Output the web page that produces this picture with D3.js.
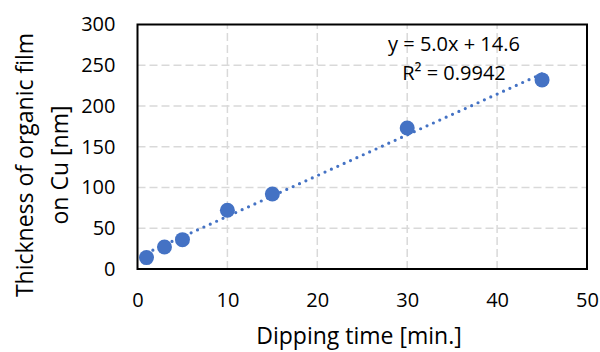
<!DOCTYPE html>
<html>
<head>
<meta charset="utf-8">
<script src="https://cdn.jsdelivr.net/npm/d3@7"></script>
<style>
  body { margin: 0; background: #fff; }
  text { font-family: "Open Sans", "Noto Sans", sans-serif; fill: #000; }
</style>
</head>
<body>
<svg id="chart" width="600" height="352"></svg>
<script>
const dipTime = [1, 3, 5, 10, 15, 30, 45];
const thickness = [14, 27, 36, 72, 92, 173, 232];
const xTicks = [0, 10, 20, 30, 40, 50];
const yTicks = [0, 50, 100, 150, 200, 250, 300];
const trend = { slope: 5.0, intercept: 14.6, r2: 0.9942 };
const xTitle = 'Dipping time [min.]';
const yTitle = ['Thickness of organic film', 'on Cu [nm]'];

const svg = d3.select('#chart');
const margin = { left: 137.5, right: 13, top: 24.5, bottom: 83 };
const width = +svg.attr('width'), height = +svg.attr('height');

const x = d3.scaleLinear().domain([0, 50]).range([margin.left, width - margin.right]);
const y = d3.scaleLinear().domain([0, 300]).range([height - margin.bottom, margin.top]);

// gridlines
const grid = svg.append('g')
    .attr('stroke', '#d9d9d9')
    .attr('stroke-width', 1.5)
    .attr('stroke-dasharray', '8 4');
grid.selectAll('.gx')
    .data(xTicks.slice(1, -1))
    .enter().append('line')
    .attr('x1', d => x(d)).attr('x2', d => x(d))
    .attr('y1', y(0)).attr('y2', y(300));
grid.selectAll('.gy')
    .data(yTicks.slice(1, -1))
    .enter().append('line')
    .attr('x1', x(0)).attr('x2', x(50))
    .attr('y1', d => y(d)).attr('y2', d => y(d));

// axes (labels only, box drawn below)
const xAxis = svg.append('g')
    .attr('transform', `translate(0,${y(0)})`)
    .call(d3.axisBottom(x).tickValues(xTicks).tickSize(0).tickPadding(23.5));
const yAxis = svg.append('g')
    .attr('transform', `translate(${x(0)},0)`)
    .call(d3.axisLeft(y).tickValues(yTicks).tickSize(0).tickPadding(22));
[xAxis, yAxis].forEach(g => {
  g.select('.domain').remove();
  g.selectAll('text').attr('font-size', 20).attr('font-family', '"Open Sans", sans-serif');
});

// plot border
svg.append('rect')
    .attr('x', x(0)).attr('y', y(300))
    .attr('width', x(50) - x(0)).attr('height', y(0) - y(300))
    .attr('fill', 'none')
    .attr('stroke', '#000')
    .attr('stroke-width', 2);

// trendline
const xr = d3.extent(dipTime);
svg.append('line')
    .attr('x1', x(xr[0])).attr('y1', y(trend.slope * xr[0] + trend.intercept))
    .attr('x2', x(xr[1])).attr('y2', y(trend.slope * xr[1] + trend.intercept))
    .attr('stroke', '#4472c4')
    .attr('stroke-width', 3.2)
    .attr('stroke-linecap', 'round')
    .attr('stroke-dasharray', '0 7');

// points
svg.append('g')
    .selectAll('circle')
    .data(dipTime)
    .enter().append('circle')
    .attr('cx', d => x(d))
    .attr('cy', (d, i) => y(thickness[i]))
    .attr('r', 7.5)
    .attr('fill', '#4472c4');

// equation
svg.append('text')
    .attr('x', 454).attr('y', 51)
    .attr('text-anchor', 'middle')
    .attr('font-size', 20)
    .text(`y = ${trend.slope.toFixed(1)}x + ${trend.intercept}`);
svg.append('text')
    .attr('x', 454).attr('y', 80)
    .attr('text-anchor', 'middle')
    .attr('font-size', 20)
    .text(`R² = ${trend.r2}`);

// axis titles
svg.append('text')
    .attr('x', 359).attr('y', 344)
    .attr('text-anchor', 'middle')
    .attr('font-size', 23)
    .text(xTitle);
const yt = svg.append('text')
    .attr('transform', 'translate(0,165) rotate(-90)')
    .attr('text-anchor', 'middle')
    .attr('font-size', 23);
yt.selectAll('tspan')
    .data(yTitle)
    .enter().append('tspan')
    .attr('x', 0)
    .attr('y', (d, i) => 33 + i * 35)
    .text(d => d);
</script>
</body>
</html>
